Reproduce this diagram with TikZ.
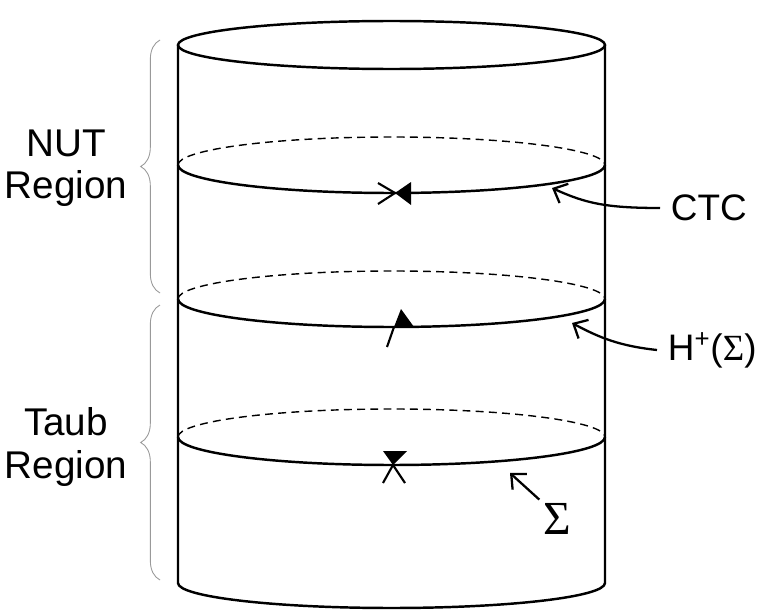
\documentclass[tikz,border=0pt]{standalone}
\usepackage{fontspec}
\setmainfont{Liberation Sans}
\newfontfamily\sigmafont{Liberation Serif}
\usetikzlibrary{arrows.meta,decorations.pathreplacing}

\begin{document}
\begin{tikzpicture}[x=0.02cm,y=0.02cm,
  wall/.style={line width=1.4pt},
  backline/.style={line width=0.8pt,dash pattern=on 4.5pt off 3pt},
  pointer/.style={line width=1.3pt,-{Straight Barb[length=6.5pt,width=12pt]}},
  regbrace/.style={gray!80,line width=0.5pt,decorate,decoration={brace,amplitude=11pt}},
  tag/.style={font=\fontsize{22}{24}\selectfont,align=center},
  sidetag/.style={font=\fontsize{21}{24}\selectfont,anchor=west,inner xsep=6pt}]
  \useasboundingbox (0,0) rectangle (762,-612);

  % Coordinates
  \coordinate (TL) at (178,-45);
  \coordinate (TR) at (605,-45);
  \coordinate (BL) at (178,-583);
  \coordinate (BR) at (605,-583);
  \coordinate (ctctip) at (552,-188);
  \coordinate (hortip) at (572,-323);
  \coordinate (sigtip) at (510,-473);

  % Cylinder
  \draw[wall] (391.5,-45) ellipse[x radius=213.5, y radius=24];
  \draw[wall] (TL) -- (BL) arc[start angle=180, end angle=360, x radius=213.5, y radius=25] -- (TR);
  \foreach \y in {165,299,437} {
    \draw[backline] (178,-\y) arc[start angle=180, end angle=0, x radius=213.5, y radius=28];
    \draw[wall] (178,-\y) arc[start angle=180, end angle=360, x radius=213.5, y radius=28];
  }

  % Light cones
  \fill (395,-193) -- (411,-182) -- (411,-205) -- cycle;
  \draw[line width=1.2pt] (378,-183) -- (395,-193) -- (378,-204);
  \fill (394,-327) -- (401,-309) -- (414,-327) -- cycle;
  \draw[line width=1.2pt] (394,-327) -- (387,-347);
  \fill (393,-465) -- (383,-451) -- (407,-451) -- cycle;
  \draw[line width=1.2pt] (383,-483) -- (393,-465) -- (405,-483);

  % Regions
  \draw[regbrace] (160,-293) -- (160,-40);
  \draw[regbrace] (160,-580) -- (160,-305);
  \node[tag] (nut) at (66,-168) {NUT\\Region};
  \node[tag] (taub) at (66,-447) {Taub\\Region};

  % Labels
  \node[sidetag] (ctc) at (660,-208) {CTC};
  \node[sidetag] (hor) at (657,-350) {H\textsuperscript{+}({\sigmafont Σ})};
  \node[inner sep=2pt,font=\sigmafont\fontsize{27}{27}\selectfont] (sig) at (557,-519) {Σ};
  \draw[pointer] (ctc.west) .. controls (605,-208) and (585,-203) .. (ctctip);
  \draw[pointer] (hor.west) .. controls (620,-346) and (600,-338) .. (hortip);
  \draw[pointer] (sig.north west) -- (sigtip);
\end{tikzpicture}
\end{document}
